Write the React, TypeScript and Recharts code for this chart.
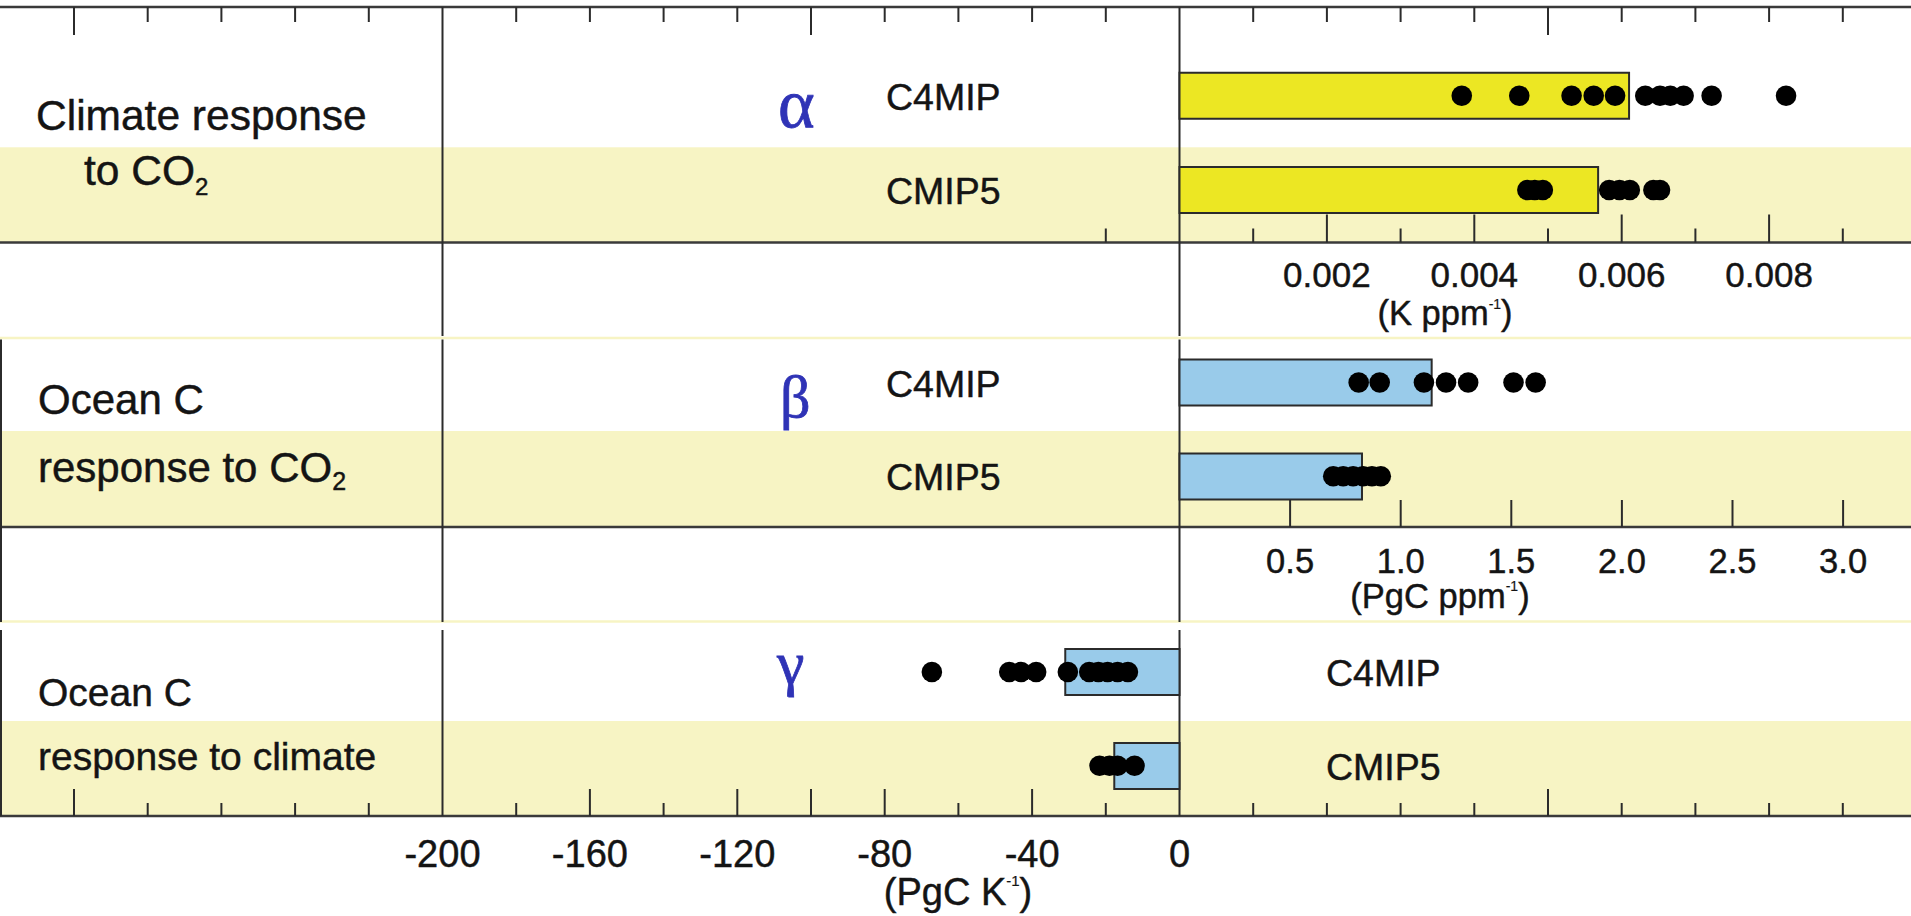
import React from 'react';
import { ComposedChart, Bar, Scatter, XAxis, YAxis } from 'recharts';

const W = 1911;
const H = 916;
const ZERO_X = 1179.5; // pixel column where every panel's x = 0
const AXIS_W = 1; // thin strip kept by the hidden category axis

const FONT = '"Liberation Sans", Arial, Helvetica, sans-serif';
const GREEK_FONT = '"Liberation Serif", "Times New Roman", "DejaVu Serif", serif';
const INK = '#141414';
const LINE = '#2b2b2b';
const SHADE = '#f7f4c4';
const YELLOW_BAR = '#ece723';
const BLUE_BAR = '#99cbea';
const GREEK = '#2f33b6';

// ---------------- data ----------------
const MODELS = ['C4MIP', 'CMIP5'];

// alpha: climate response to CO2 (K ppm-1)
const ALPHA_MEAN = [0.0061, 0.00568];
const ALPHA_C4MIP = [0.00383, 0.00461, 0.00532, 0.00562, 0.00591, 0.00632, 0.00652, 0.00666, 0.00684, 0.00722, 0.00823];
const ALPHA_CMIP5 = [0.00472, 0.00482, 0.00493, 0.00583, 0.00597, 0.00611, 0.00643, 0.00652];

// beta: ocean carbon response to CO2 (PgC ppm-1)
const BETA_MEAN = [1.14, 0.825];
const BETA_C4MIP = [0.81, 0.905, 1.105, 1.205, 1.305, 1.51, 1.61];
const BETA_CMIP5 = [0.695, 0.74, 0.785, 0.83, 0.87, 0.91];

// gamma: ocean carbon response to climate (PgC K-1)
const GAMMA_MEAN = [-31.0, -17.7];
const GAMMA_C4MIP = [-67.2, -46.2, -43.0, -38.9, -30.3, -24.5, -22.0, -19.5, -16.8, -14.0];
const GAMMA_CMIP5 = [-21.7, -19.0, -16.8, -12.2];

// tick values
const ALPHA_LABELS = [0.002, 0.004, 0.006, 0.008];
const ALPHA_MINOR = [-0.001, 0.001, 0.002, 0.003, 0.004, 0.005, 0.006, 0.007, 0.008, 0.009];
const BETA_LABELS = [0.5, 1.0, 1.5, 2.0, 2.5, 3.0];
const GAMMA_LABELS = [-200, -160, -120, -80, -40, 0];
const FRAME_GRID = [
  -300, -280, -260, -240, -220, -200, -180, -160, -140, -120, -100, -80, -60,
  -40, -20, 0, 20, 40, 60, 80, 100, 120, 140, 160, 180,
];
const FRAME_LONG = [-300, -100, 100];

// pixels per data unit along x for each panel
const ALPHA_PX = 73700;
const BETA_PX = 221.2;
const GAMMA_PX = 3.685;

const domainFor = (px: number): [number, number] => [
  -(ZERO_X - AXIS_W) / px,
  (W - ZERO_X) / px,
];

const rowsOf = (means: number[]) => MODELS.map((name, i) => ({ name, mean: means[i] }));
const pointsOf = (c4: number[], c5: number[]) => [
  ...c4.map((v) => ({ name: MODELS[0], v })),
  ...c5.map((v) => ({ name: MODELS[1], v })),
];

// horizontal frame lines
const Y_TOP = 7;
const Y_ALPHA = 242.5;
const Y_BETA = 527;
const Y_GAMMA = 816;

// slightly heavier strokes on glyphs, as in the printed figure
const TEXT = { fontFamily: FONT, fill: INK, stroke: INK, strokeWidth: 0.45 } as const;

const has = (list: number[], v: number) => list.some((t) => Math.abs(t - v) < 1e-9);

const AlphaTick = (p: any) => {
  const { x, payload } = p;
  const v = payload.value;
  const major = has(ALPHA_LABELS, v);
  return (
    <g>
      <line x1={x} x2={x} y1={Y_ALPHA} y2={Y_ALPHA - (major ? 28 : 14)} stroke={LINE} strokeWidth={2} />
      {major && (
        <text x={x} y={287} textAnchor="middle" fontSize={35} {...TEXT}>
          {v.toFixed(3)}
        </text>
      )}
    </g>
  );
};

const BetaTick = (p: any) => {
  const { x, payload } = p;
  const v = payload.value;
  return (
    <g>
      <line x1={x} x2={x} y1={Y_BETA} y2={Y_BETA - 27} stroke={LINE} strokeWidth={2} />
      <text x={x} y={573} textAnchor="middle" fontSize={34.5} {...TEXT}>
        {v.toFixed(1)}
      </text>
    </g>
  );
};

// gamma axis ticks double as the outer frame ticks (top and bottom)
const GammaTick = (p: any) => {
  const { x, payload } = p;
  const v = payload.value;
  const onLine = v === 0 || v === -200;
  const frameLong = has(FRAME_LONG, v);
  const long = frameLong || has(GAMMA_LABELS, v);
  return (
    <g>
      {!onLine && (
        <line x1={x} x2={x} y1={Y_GAMMA} y2={Y_GAMMA - (long ? 27 : 13)} stroke={LINE} strokeWidth={2} />
      )}
      {!onLine && (
        <line x1={x} x2={x} y1={Y_TOP} y2={Y_TOP + (frameLong ? 28 : 15)} stroke={LINE} strokeWidth={2} />
      )}
      {has(GAMMA_LABELS, v) && (
        <text x={x} y={867} textAnchor="middle" fontSize={38} {...TEXT}>
          {String(v)}
        </text>
      )}
    </g>
  );
};

const modelTick = (labelX: number, dy: number) => (p: any) => (
  <text x={labelX} y={p.y + dy} fontSize={37.5} {...TEXT}>
    {p.payload.value}
  </text>
);

const dotShape = (p: any) => <circle cx={p.cx} cy={p.cy} r={10.3} fill="#000" />;

type PanelProps = {
  rows: { name: string; mean: number }[];
  points: { name: string; v: number }[];
  px: number;
  top: number;
  bottom: number;
  fill: string;
  ticks: number[];
  tick: (p: any) => React.ReactElement;
  labelX: number;
};

function Panel({ rows, points, px, top, bottom, fill, ticks, tick, labelX }: PanelProps) {
  return (
    <div style={{ position: 'absolute', left: 0, top: 0 }}>
      <ComposedChart
        width={W}
        height={H}
        layout="vertical"
        data={rows}
        margin={{ top, right: 0, bottom: H - bottom - 1, left: 0 }}
      >
        <XAxis
          type="number"
          domain={domainFor(px)}
          allowDataOverflow
          ticks={ticks}
          interval={0}
          height={1}
          axisLine={false}
          tickLine={false}
          tick={tick}
        />
        <YAxis
          type="category"
          dataKey="name"
          width={AXIS_W}
          allowDuplicatedCategory={false}
          axisLine={false}
          tickLine={false}
          interval={0}
          tick={modelTick(labelX, 14)}
        />
        <Bar dataKey="mean" barSize={46} fill={fill} stroke={LINE} strokeWidth={2} isAnimationActive={false} />
        <Scatter data={points} dataKey="v" isAnimationActive={false} shape={dotShape} />
      </ComposedChart>
    </div>
  );
}

function Frame() {
  const xMinus200 = ZERO_X - 200 * GAMMA_PX;
  const segs: [number, number][] = [
    [Y_TOP, 336],
    [339.5, 622],
    [630, Y_GAMMA],
  ];
  const greek = { fontFamily: GREEK_FONT, fill: GREEK, stroke: GREEK, strokeWidth: 0.8 } as const;
  return (
    <svg width={W} height={H} style={{ position: 'absolute', left: 0, top: 0 }}>
      <rect x={0} y={0} width={W} height={H} fill="#fff" />
      {/* shaded CMIP5 rows */}
      <rect x={0} y={147.3} width={W} height={Y_ALPHA - 147.3} fill={SHADE} />
      <rect x={0} y={431} width={W} height={Y_BETA - 431} fill={SHADE} />
      <rect x={0} y={721} width={W} height={Y_GAMMA - 721} fill={SHADE} />
      {/* seams between panels */}
      <line x1={0} x2={W} y1={338} y2={338} stroke={SHADE} strokeWidth={2.5} />
      <line x1={0} x2={W} y1={621.5} y2={621.5} stroke={SHADE} strokeWidth={2.5} />
      {/* frame lines */}
      {[Y_TOP, Y_ALPHA, Y_BETA, Y_GAMMA].map((y) => (
        <line key={y} x1={0} x2={W} y1={y} y2={y} stroke="#3a3a3a" strokeWidth={2.6} />
      ))}
      {[xMinus200, ZERO_X].map((x) =>
        segs.map(([a, b]) => (
          <line key={`${x}-${a}`} x1={x} x2={x} y1={a} y2={b} stroke={LINE} strokeWidth={2} />
        )),
      )}
      {segs.slice(1).map(([a, b]) => (
        <line key={`l-${a}`} x1={1} x2={1} y1={a} y2={b} stroke={LINE} strokeWidth={2} />
      ))}

      {/* row group titles */}
      <text x={36} y={130} fontSize={42.5} {...TEXT}>Climate response</text>
      <text x={84} y={185} fontSize={42.5} {...TEXT}>
        to CO<tspan fontSize={24} dy={10}>2</tspan>
      </text>
      <text x={38} y={414} fontSize={42} {...TEXT}>Ocean C</text>
      <text x={38} y={482} fontSize={42} {...TEXT}>
        response to CO<tspan fontSize={25} dy={8}>2</tspan>
      </text>
      <text x={38} y={706} fontSize={39} {...TEXT}>Ocean C</text>
      <text x={38} y={770} fontSize={39} {...TEXT}>response to climate</text>

      {/* feedback symbols */}
      <text x={778} y={127} fontSize={70} {...greek}>α</text>
      <text x={780} y={417} fontSize={60} {...greek}>β</text>
      <text x={777} y={684} fontSize={62} {...greek}>γ</text>

      {/* unit labels */}
      <text x={1445} y={325} textAnchor="middle" fontSize={34.5} {...TEXT}>
        (K ppm<tspan fontSize={14} dy={-16} strokeWidth={0.2}>-1</tspan>
        <tspan dy={16}>)</tspan>
      </text>
      <text x={1440} y={608} textAnchor="middle" fontSize={34.5} {...TEXT}>
        (PgC ppm<tspan fontSize={14} dy={-17} strokeWidth={0.2}>-1</tspan>
        <tspan dy={17}>)</tspan>
      </text>
      <text x={958} y={905} textAnchor="middle" fontSize={38} {...TEXT}>
        (PgC K<tspan fontSize={15} dy={-19} strokeWidth={0.2}>-1</tspan>
        <tspan dy={19}>)</tspan>
      </text>
    </svg>
  );
}

export default function App() {
  return (
    <div
      style={{
        position: 'absolute',
        left: 0,
        top: 0,
        width: W,
        height: H,
        overflow: 'hidden',
        background: '#fff',
      }}
    >
      <Frame />
      <Panel
        rows={rowsOf(ALPHA_MEAN)}
        points={pointsOf(ALPHA_C4MIP, ALPHA_CMIP5)}
        px={ALPHA_PX}
        top={48.7}
        bottom={237.1}
        fill={YELLOW_BAR}
        ticks={ALPHA_MINOR}
        tick={AlphaTick}
        labelX={886}
      />
      <Panel
        rows={rowsOf(BETA_MEAN)}
        points={pointsOf(BETA_C4MIP, BETA_CMIP5)}
        px={BETA_PX}
        top={335.6}
        bottom={523.2}
        fill={BLUE_BAR}
        ticks={BETA_LABELS}
        tick={BetaTick}
        labelX={886}
      />
      <Panel
        rows={rowsOf(GAMMA_MEAN)}
        points={pointsOf(GAMMA_C4MIP, GAMMA_CMIP5)}
        px={GAMMA_PX}
        top={625.1}
        bottom={812.7}
        fill={BLUE_BAR}
        ticks={FRAME_GRID}
        tick={GammaTick}
        labelX={1326}
      />
    </div>
  );
}
